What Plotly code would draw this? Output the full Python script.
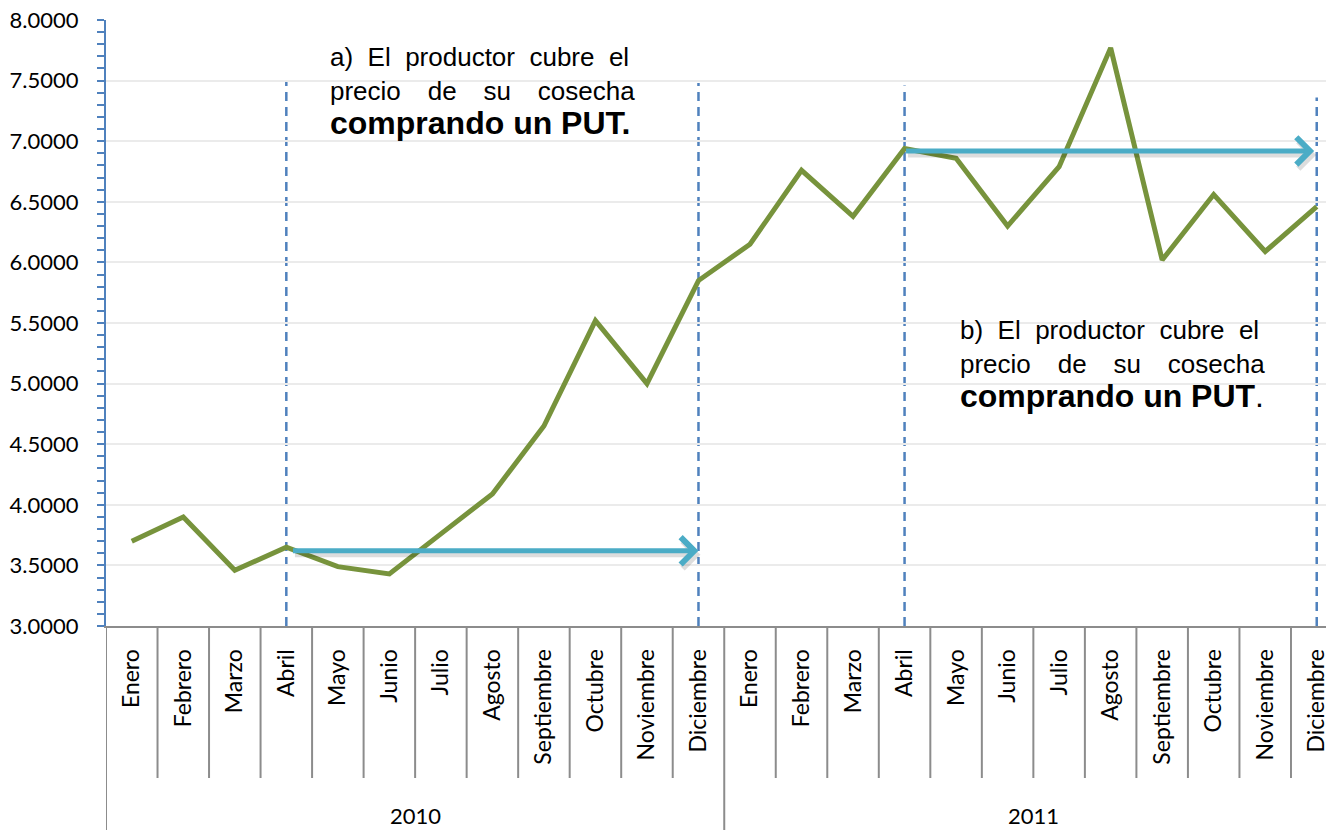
import plotly.graph_objects as go

# ---------------- data ----------------
months = ["Enero", "Febrero", "Marzo", "Abril", "Mayo", "Junio", "Julio", "Agosto",
          "Septiembre", "Octubre", "Noviembre", "Diciembre"]
years = ["2010", "2011"]
prices_2010 = [3.70, 3.90, 3.46, 3.65, 3.49, 3.43, 3.76, 4.09, 4.65, 5.52, 5.00, 5.85]
prices_2011 = [6.15, 6.76, 6.38, 6.94, 6.86, 6.30, 6.79, 7.77, 6.02, 6.56, 6.09, 6.46]

# hedge periods (category index start -> end) and hedged price level
hedge_start = [3.1, 15.0]
hedge_end = [11.0, 22.95]
hedge_level = [3.62, 6.92]

# dashed period markers (category index, top value)
marker_x = [3, 11, 15, 23]
marker_top = [7.49, 7.48, 7.46, 7.36]

y_ticks = [3.0, 3.5, 4.0, 4.5, 5.0, 5.5, 6.0, 6.5, 7.0, 7.5, 8.0]

# ---------------- layout constants ----------------
W, H = 1326, 830
ML, MR, MT, MB = 106, 0, 20, 204
PW, PH = W - ML - MR, H - MT - MB

def py(pix):  # pixel row -> paper y
    return (H - MB - pix) / PH

def px(pix):  # pixel column -> paper x
    return (pix - ML) / PW

labels = months * 2
prices = prices_2010 + prices_2011
xs = list(range(len(labels)))

LINE = "#77933C"
ARROW = "#4BACC6"
DASH = "#4F81BD"
GRIDC = "#EBEBEB"
DIV = "#8C8C8C"
FONT = "Lato"

fig = go.Figure()
fig.add_trace(go.Scatter(x=xs, y=prices, mode="lines",
                         line=dict(color=LINE, width=5), showlegend=False,
                         hoverinfo="skip"))

shapes = []
# dashed vertical markers
for mx, mt in zip(marker_x, marker_top):
    shapes.append(dict(type="line", xref="x", yref="y", x0=mx, x1=mx, y0=3.0, y1=mt,
                       line=dict(color=DASH, width=2.5, dash="9px,6px"), layer="below"))
# category dividers below axis
n = len(labels)
for i in range(1, n):
    bottom = py(830) if i == 12 else py(778)
    shapes.append(dict(type="line", xref="x", yref="paper", x0=i - 0.5, x1=i - 0.5,
                       y0=0, y1=bottom, line=dict(color=DIV, width=2)))
shapes.append(dict(type="line", xref="x", yref="paper", x0=-0.5, x1=-0.5,
                   y0=0, y1=py(830), line=dict(color=DIV, width=2)))

annotations = []
# arrows (shadow + arrow)
for s, e, lv in zip(hedge_start, hedge_end, hedge_level):
    annotations.append(dict(x=e, y=lv, ax=s, ay=lv, xref="x", yref="y", axref="x", ayref="y",
                            text="", showarrow=True, arrowhead=4, arrowsize=1.05, arrowwidth=5,
                            arrowcolor="rgba(0,0,0,0.13)", xshift=2, yshift=-4))
    annotations.append(dict(x=e, y=lv, ax=s, ay=lv, xref="x", yref="y", axref="x", ayref="y",
                            text="", showarrow=True, arrowhead=4, arrowsize=1.05, arrowwidth=5,
                            arrowcolor=ARROW))

# year labels
for k, yr in enumerate(years):
    annotations.append(dict(x=5.5 + 12 * k, y=py(815), xref="x", yref="paper", text=yr,
                            showarrow=False, font=dict(family=FONT, size=22, color="#000"),
                            xanchor="center", yanchor="middle"))

sp2 = "\u00a0\u00a0"
sp4 = "\u00a0\u00a0\u00a0\u2009"
txt_a = ("a)" + sp2 + "El" + sp2 + "productor" + sp2 + "cubre" + sp2 + "el<br>"
         "precio" + sp4 + "de" + sp4 + "su" + sp4 + "cosecha<br>"
         "<span style='font-size:32px'><b>comprando un PUT.</b></span>")
txt_b = ("b)" + sp2 + "El" + sp2 + "productor" + sp2 + "cubre" + sp2 + "el<br>"
         "precio" + sp4 + "de" + sp4 + "su" + sp4 + "cosecha<br>"
         "<span style='font-size:32px'><b>comprando un PUT</b>.</span>")
annotations.append(dict(x=px(328), y=py(40), xref="paper", yref="paper", text=txt_a,
                        showarrow=False, align="left", xanchor="left", yanchor="top",
                        font=dict(family="Liberation Sans", size=26, color="#000")))
annotations.append(dict(x=px(958), y=py(313), xref="paper", yref="paper", text=txt_b,
                        showarrow=False, align="left", xanchor="left", yanchor="top",
                        font=dict(family="Liberation Sans", size=26, color="#000")))

fig.update_layout(
    width=W, height=H,
    margin=dict(l=ML, r=MR, t=MT, b=MB, pad=0),
    paper_bgcolor="white", plot_bgcolor="white",
    shapes=shapes, annotations=annotations,
    xaxis=dict(range=[-0.5, 23.18], tickmode="array", tickvals=xs, ticktext=labels,
               tickangle=-90, ticks="", showgrid=False, zeroline=False,
               showline=True, linecolor=DIV, linewidth=2,
               tickfont=dict(family=FONT, size=23, color="#000"),
               ticklabelstandoff=12, ticklabeloverflow="allow",
               fixedrange=True, automargin=False),
    yaxis=dict(range=[3.0, 8.0], tickmode="array", tickvals=y_ticks, tickformat=".4f",
               showgrid=True, gridcolor=GRIDC, gridwidth=2, zeroline=False,
               showline=True, linecolor=DASH, linewidth=2,
               ticks="outside", ticklen=7, tickwidth=2, tickcolor=DASH,
               minor=dict(dtick=0.1, tick0=3.0, ticks="outside", ticklen=7, tickwidth=2,
                          tickcolor=DASH, showgrid=False),
               tickfont=dict(family=FONT, size=22, color="#000"),
               ticklabelstandoff=14, fixedrange=True, automargin=False),
)

fig.write_html("out.html", config={"displayModeBar": False},
               post_script="document.body.style.margin='0';")
